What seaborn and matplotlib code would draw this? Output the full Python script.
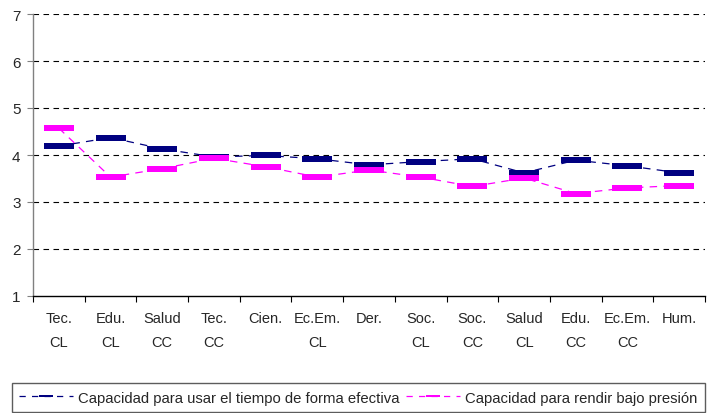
import numpy as np
import pandas as pd
import matplotlib
matplotlib.use("Agg")
import matplotlib.pyplot as plt
from matplotlib.lines import Line2D
import seaborn as sns

categories = ["Tec.\nCL", "Edu.\nCL", "Salud\nCC", "Tec.\nCC", "Cien.", "Ec.Em.\nCL", "Der.",
              "Soc.\nCL", "Soc.\nCC", "Salud\nCL", "Edu.\nCC", "Ec.Em.\nCC", "Hum."]
tiempo = [4.19, 4.37, 4.13, 3.96, 3.99, 3.92, 3.79, 3.86, 3.92, 3.62, 3.89, 3.77, 3.62]
presion = [4.57, 3.53, 3.71, 3.93, 3.75, 3.53, 3.68, 3.53, 3.33, 3.51, 3.18, 3.30, 3.35]
series_names = ["Capacidad para usar el tiempo de forma efectiva",
                "Capacidad para rendir bajo presión"]
colors = ["#000080", "#FF00FF"]
yticks = [1, 2, 3, 4, 5, 6, 7]

sns.set_theme(style="white")
plt.rcParams["font.family"] = ["Liberation Sans", "DejaVu Sans"]

pos = np.arange(len(categories))
df = pd.DataFrame({
    "pos": np.concatenate([pos, pos]),
    "valor": tiempo + presion,
    "serie": [series_names[0]] * len(pos) + [series_names[1]] * len(pos),
})

fig = plt.figure(figsize=(7.10, 4.14), dpi=100)
ax = fig.add_axes([33 / 710, 1 - 297 / 414, 672 / 710, 282 / 414])

# wide flat bar marker
bar = [(-1, -0.19), (1, -0.19), (1, 0.19), (-1, 0.19), (-1, -0.19)]

for name, col in zip(series_names, colors):
    sub = df[df["serie"] == name]
    sns.lineplot(data=sub, x="pos", y="valor", ax=ax, color=col, sort=False,
                 linewidth=0.9, dashes=False, marker=bar, markersize=21,
                 markeredgewidth=0, markerfacecolor=col, legend=False)
for ln in ax.get_lines():
    ln.set_linestyle((0, (6, 5)))

ax.set_xlim(-0.5, len(categories) - 0.5)
ax.set_ylim(1, 7)
ax.set_yticks(yticks)
ax.set_yticklabels([str(v) for v in yticks], fontsize=11)
for v in yticks[1:]:
    ax.axhline(v, color="black", linewidth=0.8, linestyle=(0, (5, 4)), zorder=0)

ax.set_xticks(np.arange(len(categories) + 1) - 0.5)
ax.set_xticklabels([])
ax.set_xticks(pos, minor=True)
ax.set_xticklabels(categories, minor=True, fontsize=10.5, linespacing=1.85)
ax.tick_params(axis="x", which="major", direction="out", length=4, width=0.8,
               color="black", bottom=True)
ax.tick_params(axis="x", which="minor", length=0, pad=11)
ax.tick_params(axis="y", direction="out", length=4, width=0.8, color="#808080",
               left=True, pad=5)
ax.set_xlabel("")
ax.set_ylabel("")
for s in ["top", "right"]:
    ax.spines[s].set_visible(False)
ax.spines["left"].set_color("#808080")
ax.spines["left"].set_linewidth(1.0)
ax.spines["bottom"].set_color("black")
ax.spines["bottom"].set_linewidth(1.0)

handles = [Line2D([], [], color=c, linewidth=0.9, linestyle=(0, (5, 5)),
                  marker=bar, markersize=10, markeredgewidth=0, markerfacecolor=c)
           for c in colors]
leg = fig.legend(handles, series_names, loc="lower left", ncol=2,
                 bbox_to_anchor=(12 / 710, 1 / 414), frameon=True, fancybox=False,
                 edgecolor="#333333", fontsize=10.7, handlelength=3.6,
                 handletextpad=0.35, columnspacing=0.45, borderpad=0.5,
                 borderaxespad=0)
leg.get_frame().set_linewidth(1.0)

fig.savefig("out.png", dpi=100)
